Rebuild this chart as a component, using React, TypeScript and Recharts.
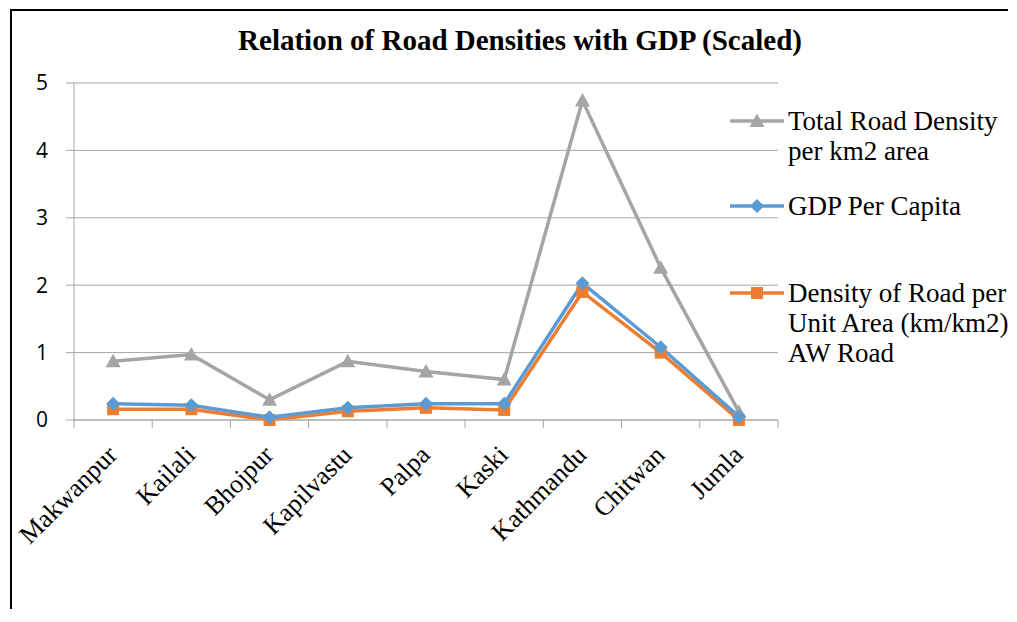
import React from "react";
import { ComposedChart, Line, XAxis, YAxis, CartesianGrid, Legend } from "recharts";

// Districts along the horizontal axis
const districts = [
  "Makwanpur",
  "Kailali",
  "Bhojpur",
  "Kapilvastu",
  "Palpa",
  "Kaski",
  "Kathmandu",
  "Chitwan",
  "Jumla",
];

// Scaled values per district
const totalRoadDensity = [0.87, 0.97, 0.3, 0.87, 0.72, 0.6, 4.74, 2.26, 0.12];
const gdpPerCapita = [0.24, 0.22, 0.04, 0.18, 0.24, 0.24, 2.03, 1.08, 0.05];
const awRoadDensity = [0.16, 0.16, 0.0, 0.13, 0.18, 0.15, 1.9, 1.0, 0.0];

const yTicks = [0, 1, 2, 3, 4, 5];

const chartTitle = "Relation of Road Densities with GDP (Scaled)";

type Shape = "triangle" | "diamond" | "square";

interface SeriesDef {
  key: string;
  lines: string[];
  color: string;
  shape: Shape;
}

// Legend order, top to bottom
const series: SeriesDef[] = [
  { key: "total", lines: ["Total Road Density", "per km2 area"], color: "#a5a5a5", shape: "triangle" },
  { key: "gdp", lines: ["GDP Per Capita"], color: "#5b9bd5", shape: "diamond" },
  { key: "aw", lines: ["Density of Road per", "Unit Area (km/km2)", "AW Road"], color: "#ed7d31", shape: "square" },
];

const chartData = districts.map((district, i) => ({
  district,
  total: totalRoadDensity[i],
  gdp: gdpPerCapita[i],
  aw: awRoadDensity[i],
}));

const GRID = "#a6a6a6";
const SERIF = "'Liberation Serif', 'Times New Roman', serif";

function markerPath(shape: Shape, cx: number, cy: number): string {
  if (shape === "triangle") {
    return `M${cx},${cy - 7.5} L${cx + 7.5},${cy + 6} L${cx - 7.5},${cy + 6} Z`;
  }
  if (shape === "diamond") {
    return `M${cx},${cy - 7} L${cx + 7},${cy} L${cx},${cy + 7} L${cx - 7},${cy} Z`;
  }
  return `M${cx - 6},${cy - 6} L${cx + 6},${cy - 6} L${cx + 6},${cy + 6} L${cx - 6},${cy + 6} Z`;
}

const makeDot = (shape: Shape, color: string) => (props: any) => {
  const { cx, cy, index } = props;
  if (cx == null || cy == null) return <g key={`m-${index}`} />;
  return <path key={`m-${shape}-${index}`} d={markerPath(shape, cx, cy)} fill={color} stroke="none" />;
};

// Rotated district label plus tick marks on the band boundaries
const CategoryTick = (props: any) => {
  const { x, y, payload } = props;
  const half = payload && payload.offset ? payload.offset : 0;
  const isLast = payload.value === districts[districts.length - 1];
  return (
    <g>
      <line x1={x - half} y1={y} x2={x - half} y2={y + 8} stroke={GRID} />
      {isLast && <line x1={x + half} y1={y} x2={x + half} y2={y + 8} stroke={GRID} />}
      <g transform={`translate(${x - 1},${y + 30}) rotate(-45)`}>
        <text
          textAnchor="end"
          dy="0.35em"
          fontSize={26}
          fill="#000"
          style={{ fontFamily: SERIF, fontSize: 26 }}
        >
          {payload.value}
        </text>
      </g>
    </g>
  );
};

const itemGaps = [0, 25, 57];

const renderLegend = () => (
  <div style={{ fontFamily: SERIF, fontSize: 27, color: "#000" }}>
    {series.map((s, i) => (
      <div key={s.key} style={{ display: "flex", alignItems: "flex-start", marginTop: itemGaps[i] }}>
        <svg width={54} height={30} style={{ flex: "none" }}>
          <line x1={0} y1={15} x2={54} y2={15} stroke={s.color} strokeWidth={3.5} />
          <path d={markerPath(s.shape, 27, 15)} fill={s.color} />
        </svg>
        <div style={{ marginLeft: 4, lineHeight: "30px", whiteSpace: "nowrap" }}>
          {s.lines.map((t) => (
            <div key={t}>{t}</div>
          ))}
        </div>
      </div>
    ))}
  </div>
);

export default function App() {
  return (
    <div style={{ padding: "1px 0 0 2px" }}>
      <div
        style={{
          borderTop: "2px solid #000",
          borderLeft: "2px solid #000",
          width: 998,
          height: 600,
          boxSizing: "border-box",
          position: "relative",
          background: "#fff",
        }}
      >
        <div
          style={{
            position: "absolute",
            left: 158,
            width: 700,
            top: 13,
            textAlign: "center",
            fontFamily: SERIF,
            fontWeight: "bold",
            fontSize: 29,
            lineHeight: "32px",
            color: "#000",
            whiteSpace: "nowrap",
          }}
        >
          {chartTitle}
        </div>
        <ComposedChart
          width={988}
          height={590}
          data={chartData}
          margin={{ top: 72, right: 222, left: 0, bottom: 31 }}
        >
          <CartesianGrid vertical={false} stroke={GRID} strokeWidth={1} />
          <XAxis
            type="category"
            scale="band"
            dataKey="district"
            axisLine={{ stroke: GRID }}
            tickLine={false}
            tickSize={0}
            tickMargin={0}
            interval={0}
            tick={<CategoryTick />}
            height={150}
          />
          <YAxis
            domain={[0, 5]}
            ticks={yTicks}
            width={62}
            tickSize={8}
            tickMargin={18}
            tickLine={{ stroke: GRID }}
            axisLine={{ stroke: GRID }}
            tick={{ fill: "#000", fontSize: 21, fontFamily: "'Open Sans', sans-serif" }}
          />
          <Legend
            layout="vertical"
            align="center"
            verticalAlign="middle"
            content={renderLegend}
            wrapperStyle={{ left: 718, top: 95, width: 270 }}
          />
          <Line
            dataKey="total"
            name="Total Road Density per km2 area"
            stroke={series[0].color}
            strokeWidth={3.5}
            dot={makeDot("triangle", series[0].color)}
            activeDot={false}
            isAnimationActive={false}
          />
          <Line
            dataKey="aw"
            name="Density of Road per Unit Area (km/km2) AW Road"
            stroke={series[2].color}
            strokeWidth={3.5}
            dot={makeDot("square", series[2].color)}
            activeDot={false}
            isAnimationActive={false}
          />
          <Line
            dataKey="gdp"
            name="GDP Per Capita"
            stroke={series[1].color}
            strokeWidth={3.5}
            dot={makeDot("diamond", series[1].color)}
            activeDot={false}
            isAnimationActive={false}
          />
        </ComposedChart>
      </div>
    </div>
  );
}
